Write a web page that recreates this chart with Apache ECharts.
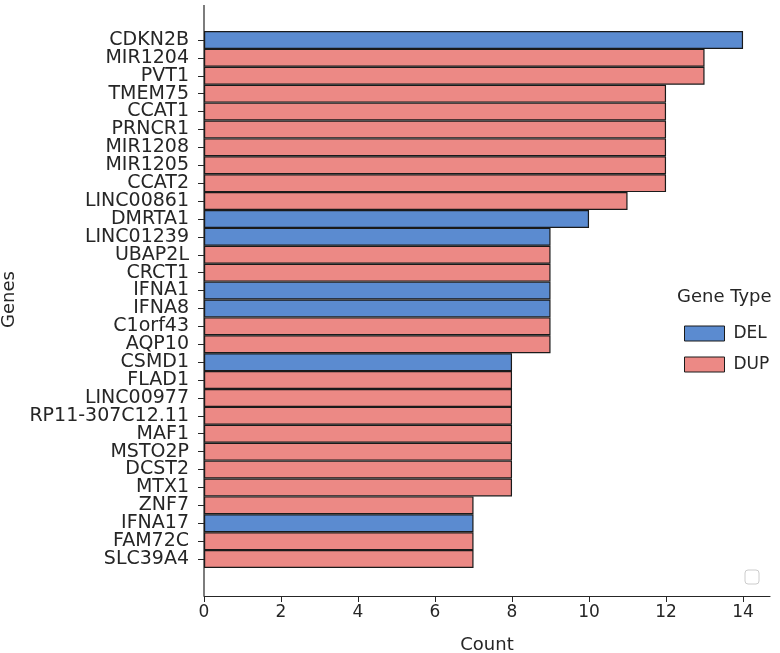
<!DOCTYPE html>
<html>
<head>
<meta charset="utf-8">
<script src="https://cdn.jsdelivr.net/npm/echarts@6/dist/echarts.min.js"></script>
<style>html,body{margin:0;padding:0;background:#fff}#main{width:780px;height:653px}</style>
</head>
<body>
<div id="main"></div>
<script>
var genes = ['CDKN2B','MIR1204','PVT1','TMEM75','CCAT1','PRNCR1','MIR1208','MIR1205','CCAT2','LINC00861',
  'DMRTA1','LINC01239','UBAP2L','CRCT1','IFNA1','IFNA8','C1orf43','AQP10','CSMD1','FLAD1',
  'LINC00977','RP11-307C12.11','MAF1','MSTO2P','DCST2','MTX1','ZNF7','IFNA17','FAM72C','SLC39A4'];
var counts = [14,13,13,12,12,12,12,12,12,11,10,9,9,9,9,9,9,9,8,8,8,8,8,8,8,8,7,7,7,7];
var types = ['DEL','DUP','DUP','DUP','DUP','DUP','DUP','DUP','DUP','DUP',
  'DEL','DEL','DUP','DUP','DEL','DEL','DUP','DUP','DEL','DUP',
  'DUP','DUP','DUP','DUP','DUP','DUP','DUP','DEL','DUP','DUP'];
var xTicks = [0,2,4,6,8,10,12,14];

var colors = { DEL: '#5b8bd0', DUP: '#ec8985' };
var font = 'DejaVu Sans';
var ink = '#262626';

var myChart = echarts.init(document.getElementById('main'), null, { renderer: 'canvas' });

function seriesFor(t) {
  return {
    name: t,
    type: 'bar',
    barGap: '-100%',
    barCategoryGap: 0,
    itemStyle: { color: colors[t], borderColor: '#1a1a1a', borderWidth: 1.2 },
    data: counts.map(function (v, i) { return types[i] === t ? v : '-'; })
  };
}

var option = {
  animation: false,
  backgroundColor: '#fff',
  textStyle: { fontFamily: font },
  grid: { left: 204, right: 10, top: 31, bottom: 85, outerBoundsMode: 'none' },
  legend: {
    orient: 'vertical',
    left: 679, top: 320,
    icon: 'rect',
    itemWidth: 40, itemHeight: 15, itemGap: 14,
    itemStyle: { borderWidth: 1, borderColor: '#1a1a1a' },
    textStyle: { fontFamily: font, fontSize: 17, color: ink, padding: [0, 0, 0, 4] },
    data: ['DEL', 'DUP']
  },
  graphic: [
    { type: 'text', left: 677, top: 288, style: { text: 'Gene Type', font: '18px "DejaVu Sans"', fill: ink } },
    { type: 'line', shape: { x1: 204, y1: 5, x2: 204, y2: 596 }, style: { stroke: ink, lineWidth: 1.2 } },
    { type: 'rect', shape: { x: 745, y: 570, width: 14, height: 14, r: 3 }, style: { fill: '#fff', stroke: '#ccc', lineWidth: 1 } }
  ],
  xAxis: {
    type: 'value',
    min: 0, max: 14.7, interval: 2,
    offset: 28,
    name: 'Count', nameLocation: 'middle', nameGap: 40,
    nameTextStyle: { fontFamily: font, fontSize: 18, color: ink },
    axisLine: { show: true, lineStyle: { color: ink, width: 1.2 } },
    axisTick: { show: true, length: 6, lineStyle: { color: ink } },
    axisLabel: { fontFamily: font, fontSize: 17, color: ink, margin: 8, showMaxLabel: false,
      formatter: function (v) { return xTicks.indexOf(v) >= 0 ? String(v) : ''; } },
    splitLine: { show: false }
  },
  yAxis: {
    type: 'category',
    inverse: true,
    data: genes,
    name: 'Genes', nameLocation: 'middle', nameGap: 176,
    nameTextStyle: { fontFamily: font, fontSize: 18, color: ink },
    axisLine: { show: false },
    axisTick: { show: true, alignWithLabel: true, length: 6, lineStyle: { color: ink } },
    axisLabel: { fontFamily: font, fontSize: 19, color: ink, margin: 15, interval: 0 }
  },
  series: [seriesFor('DEL'), seriesFor('DUP')]
};

myChart.setOption(option);
window.addEventListener('resize', myChart.resize);
</script>
</body>
</html>
